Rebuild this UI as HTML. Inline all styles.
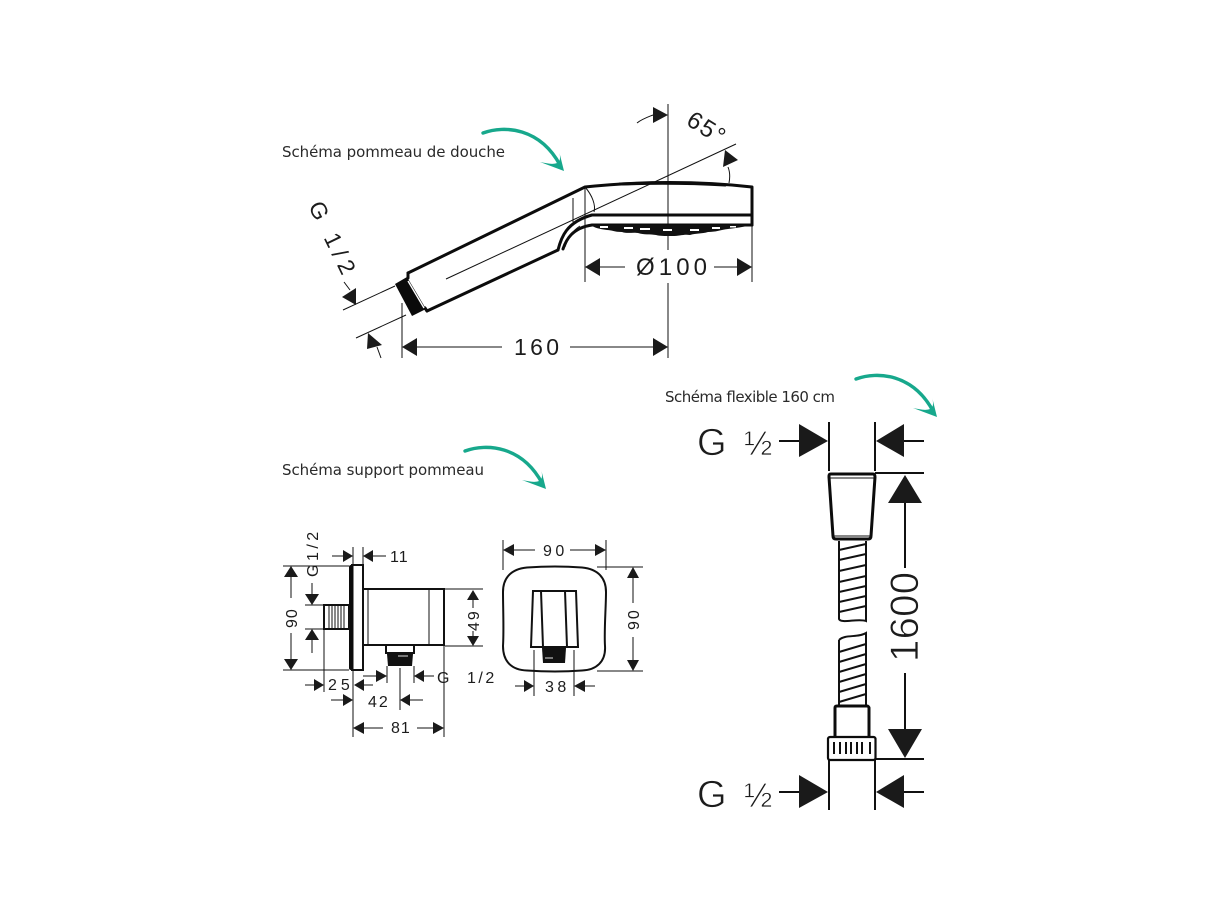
<!DOCTYPE html>
<html lang="fr">
<head>
<meta charset="utf-8">
<title>Schémas</title>
<style>
html,body{margin:0;padding:0;background:#fff;width:1220px;height:915px;overflow:hidden}
svg{display:block}
text{font-family:"Liberation Sans",sans-serif;fill:#1c1c1c}
.lab{font-family:"DejaVu Sans","Liberation Sans",sans-serif;font-size:15px;fill:#2a2a2a}
.thin{stroke:#fff;stroke-width:.7}
.d{fill:none;stroke:#111;stroke-width:1}
.m{fill:none;stroke:#111;stroke-width:2}
.k{fill:none;stroke:#0c0c0c;stroke-width:3;stroke-linejoin:round;stroke-linecap:round}
.a{fill:#1a1a1a;stroke:none}
.gr{fill:none;stroke:#17a88c;stroke-width:3.4;stroke-linecap:round}
.gf{fill:#17a88c;stroke:none}
</style>
</head>
<body>
<svg width="1220" height="915" viewBox="0 0 1220 915" xmlns="http://www.w3.org/2000/svg">
<rect width="1220" height="915" fill="#fff"/>

<!-- labels -->
<text class="lab" x="282" y="157" textLength="223" lengthAdjust="spacing">Schéma pommeau de douche</text>
<text class="lab" x="282" y="475" textLength="202" lengthAdjust="spacing">Schéma support pommeau</text>
<text class="lab" x="665" y="402" textLength="170" lengthAdjust="spacing">Schéma flexible 160 cm</text>

<!-- green arrows -->
<g>
<path class="gr" d="M483 133C505 125 540 128 560 165"/>
<path class="gf" d="M540 162L564 171L559 151C561 158 560 162 557 163C552 165 546 163 540 162Z"/>
</g>
<g transform="translate(373 246)">
<path class="gr" d="M483 133C505 125 540 128 560 165"/>
<path class="gf" d="M540 162L564 171L559 151C561 158 560 162 557 163C552 165 546 163 540 162Z"/>
</g>
<g transform="translate(-18 318)">
<path class="gr" d="M483 133C505 125 540 128 560 165"/>
<path class="gf" d="M540 162L564 171L559 151C561 158 560 162 557 163C552 165 546 163 540 162Z"/>
</g>

<!-- SHOWER HEAD -->
<path class="d" d="M446 279L736 144M668 104V250M668 283V358M585 225V282M752 225V282M402 303V358"/>
<path class="d" d="M637 123C642 119 648 117 653 115M728 167C730 172 730 178 729 183"/>
<path class="d" d="M343 310L395 286M356 338L406 315M377 347L381 358M344 282L350 290"/>
<path class="a" d="M668 115L653 107V123ZM725 150L738 160L723 167ZM342 297L356 288V305ZM368 333L382 345L367 349Z"/>
<path class="k" d="M408 273L585 187C640 181 700 181 752 187V225M427 311L558 250"/>
<path class="k" d="M408 273V278M425 308L427 311"/>
<path class="k" d="M558 250C561 238 566 222 592 215H752" stroke-width="2.6"/>
<path class="k" d="M563 249C566 240 572 228 592 225H752" stroke-width="2.4"/>
<path class="k" d="M620 184C650 183 690 183 725 185" stroke-width="3.4"/>
<path class="d" d="M585 187V225M585 187C592 195 596 205 594 212M573 198V222M565 247C568 238 572 231 580 226"/>
<path d="M395 284L407 277L426 309L412 316Z" fill="#0a0a0a"/>
<path d="M408 281L424 308" stroke="#fff" stroke-width="1.4"/>
<path d="M591 225C594 228 600 229 607 230C612 230 614 232 622 232C628 234 632 232 638 233C644 235 650 234 656 235C660 236 664 236 672 236C680 236 684 234 690 235C696 233 702 234 708 232C716 232 720 230 728 229C736 228 744 227 751 225Z" fill="#111"/>
<path d="M600 226h8v2h-8zM624 227h9v2h-9zM640 228h10v2h-10zM663 229h9v2h-9zM690 229h9v2h-9zM712 227h8v2h-8zM730 226h6v1.500h-6z" fill="#fff"/>
<path d="M668 233V250" stroke="#111" stroke-width="1"/>

<!-- head dims -->
<path class="d" d="M600 267H625M714 267H737M415 347H502M570 347H655"/>
<path class="a" d="M585 267L600 258V276ZM752 267L737 258V276ZM402 347L417 338V356ZM668 347L653 338V356Z"/>
<text x="636" y="275" font-size="24" textLength="71" lengthAdjust="spacing">Ø100</text>
<text x="514" y="355" font-size="23" textLength="45" lengthAdjust="spacing">160</text>
<text x="0" y="0" font-size="24" transform="translate(685 124) rotate(32)" textLength="40" lengthAdjust="spacing">65°</text>
<text x="0" y="0" font-size="23" transform="translate(308 206) rotate(64)" textLength="78" lengthAdjust="spacing">G 1/2</text>

<!-- SUPPORT side view -->
<path class="d" d="M283 566H349M283 670H349M305 605H324M305 629H324M324 605V692M353 547V737M363 547V565M444 645V737M445 589H483M445 646H483M387 666V683M414 666V683M400 668V710M291 576V598M291 633V660M312 583V595M312 639V653M332 556H343M373 556H386M305 685H314M364 685H373M363 676H376M424 676H434M331 700H343M410 700H423M364 728H383M417 728H433M473 600V608M473 631V636"/>
<path class="a" d="M291 566L284 577H298ZM291 670L284 659H298ZM312 605L305 594H319ZM312 629L305 640H319ZM353 556L343 550V562ZM363 556L373 550V562ZM324 685L314 679V691ZM354 685L364 679V691ZM387 676L376 670V682ZM414 676L424 670V682ZM353 700L343 694V706ZM400 700L410 694V706ZM353 728L364 722V734ZM444 728L433 722V734ZM473 590L467 600H479ZM473 646L467 636H479Z"/>
<rect x="349" y="565" width="4.500" height="105" rx="2" fill="#0c0c0c"/>
<path class="m" d="M351 565H363V670H351M364 589H444V645H364M324 605H349V629H324Z"/>
<path class="d" d="M368 589V645M429 589V645M329 605V629M332 605V629M335 605V629M338 605V629M341 605V629M344 605V629"/>
<path class="m" d="M386 645V653H414V645"/>
<path d="M387 654H413L412 666H388Z" fill="#111"/>
<path d="M398 656H408" stroke="#ddd" stroke-width="1"/>
<g font-size="16">
<text x="390" y="562" letter-spacing="1">11</text>
<text x="328" y="690" letter-spacing="4">25</text>
<text x="368" y="707" letter-spacing="2">42</text>
<text x="391" y="733" letter-spacing="1">81</text>
<text x="437" y="683">G</text>
<text x="467" y="683" letter-spacing="2.500">1/2</text>
<text transform="translate(297 628) rotate(-90)" letter-spacing="1">90</text>
<text transform="translate(479 631) rotate(-90)" letter-spacing="2">49</text>
<text transform="translate(318 577) rotate(-90)" letter-spacing="3.500">G1/2</text>
</g>

<!-- SUPPORT front view -->
<path class="d" d="M503 540V570M606 540V570M513 550H535M570 550H596M597 567H643M597 671H643M633 577V603M633 637V661M534 650V696M574 650V696M515 686H524M585 686H595"/>
<path class="a" d="M503 550L514 544V556ZM606 550L595 544V556ZM633 567L627 578H639ZM633 671L627 660H639ZM534 686L524 680V692ZM574 686L585 680V692Z"/>
<path class="m" d="M527 567.500C548 566 562 566 582 567.500C598 569 606 578 606 592C606 608 604 630 605 646C606 662 596 670 582 670.500C562 672 548 672 527 670.500C512 670 503 662 503 646C504 630 503 608 503 592C503 578 511 569 527 567.500Z" stroke-width="2.400"/>
<path class="m" d="M533 591H576L578 647H531ZM541 591L543 647M565 591L567 647" stroke-width="1.800"/>
<path d="M542 648H566L565 663H543Z" fill="#111"/>
<path d="M545 658H553" stroke="#ddd" stroke-width="1"/>
<g font-size="16">
<text x="543" y="556" letter-spacing="3.500">90</text>
<text x="545" y="692" letter-spacing="3.500">38</text>
<text transform="translate(639 630) rotate(-90)" letter-spacing="2">90</text>
</g>

<!-- FLEXIBLE -->
<path class="m" d="M829 422V471M875 422V471M875 473H924M905 503V568M905 673V730M875 759H924M829 760V810M875 760V810M779 441H800M904 441H924M779 792H800M904 792H924"/>
<path class="a" d="M828 441L799 424V457ZM876 441L904 424V457ZM905 475L888 503H922ZM905 758L888 729H922ZM828 792L799 775V808ZM876 792L904 775V808Z"/>
<text class="thin" x="697" y="455" font-size="38">G</text>
<text class="thin" x="744" y="455" font-size="34">½</text>
<text class="thin" x="697" y="807" font-size="38">G</text>
<text class="thin" x="744" y="807" font-size="34">½</text>
<text class="thin" transform="translate(918 662) rotate(-90)" font-size="40" textLength="90" lengthAdjust="spacing">1600</text>

<path class="k" d="M831 474H873C875 474 875 476 875 477L871 536C871 538 870 539 868 539H836C834 539 833 538 833 536L829 477C829 475 829 474 831 474Z" stroke-width="2.200"/>
<path class="d" d="M830 478H874M833 536H871"/>
<path class="m" d="M839 541V619C841 624 858 618 866 621V541M839 640C845 634 858 638 866 633V705M839 640V705"/>
<path class="m" stroke-width="2.400" d="M839 550L866 544M839 560L866 554M839 571L866 565M839 582L866 576M839 592L866 586M839 602L866 596M839 612L866 606M839 652L866 644M839 662L866 654M839 672L866 664M839 682L866 674M839 692L866 684M839 702L866 694"/>
<path class="k" d="M835 737V708C835 707 835 706 837 706H867C868 706 869 707 869 708V737" stroke-width="2.200"/>
<rect x="828" y="737" width="47.500" height="23" rx="2" fill="#fff" stroke="#0c0c0c" stroke-width="2.200"/>
<path class="m" d="M834 742V754M840 742V754M846 742V754M851 742V754M857 742V754M862 742V754M870 742V754" stroke-width="1.600"/>
</svg>
</body>
</html>
